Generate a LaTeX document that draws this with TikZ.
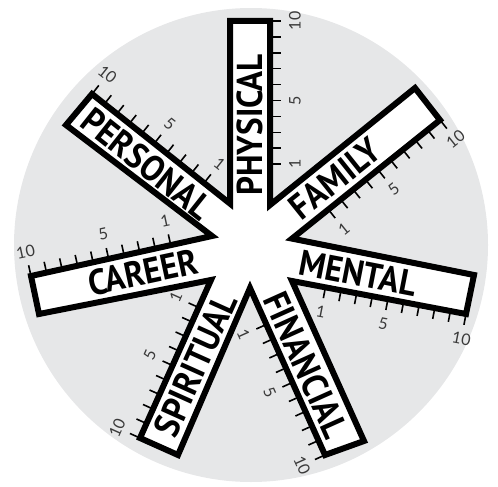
\documentclass[tikz,border=0pt]{standalone}
\usepackage{fontspec}
\usepackage{graphicx}
\usetikzlibrary{calc}
\newfontfamily\labfont{PT Sans}
\newfontfamily\numfont{Lato}
\definecolor{disc}{HTML}{E6E7E8}
\definecolor{numgray}{HTML}{3A3A3A}
\tikzset{
  armline/.style={draw=black, line width=6pt, fill=white, line join=miter},
  tickline/.style={draw=black, line width=1.6pt},
  armlabel/.style={font=\labfont\bfseries\fontsize{36}{36}\selectfont, inner sep=0pt},
  numlabel/.style={font=\numfont\fontsize{16}{16}\selectfont, text=numgray, inner sep=0pt},
}
\newcommand\ruler[3]{%
  \foreach \k in {0,...,9} {
    \coordinate (tk) at ($(#1)!{\k*15.9pt}!(#2)$);
    \draw[tickline] (tk) -- ($(tk)!11pt!90:(#2)$);
  }
  \foreach \k/\numtxt in {0/10,5/5,9/1} {
    \coordinate (tn) at ($(#1)!{\k*15.9pt}!(#2)$);
    \node[numlabel, rotate=#3] at ($(tn)!25pt!90:(#2)$) {\numtxt};
  }}
\newcommand\armtext[1]{\scalebox{0.92}[1]{#1}}
\begin{document}
\begin{tikzpicture}[x=1pt,y=-1pt]
\useasboundingbox (0,0) rectangle (498,487);
\fill[disc] (251,245) circle (237pt);
% arm corners (stroke centre line)
\coordinate (phyA) at (230,21);   \coordinate (phyB) at (270,21);
\coordinate (vPF)  at (270,205);
\coordinate (famA) at (415,88);   \coordinate (famB) at (440,120);
\coordinate (vFM)  at (292,238.6);
\coordinate (menA) at (474,275);  \coordinate (menB) at (466,314);
\coordinate (vMF)  at (292,281);
\coordinate (finA) at (364,441);  \coordinate (finB) at (325,455);
\coordinate (vFS)  at (250,288);
\coordinate (spiA) at (178,455);  \coordinate (spiB) at (140,438);
\coordinate (vSC)  at (211,280);
\coordinate (carA) at (39,314);   \coordinate (carB) at (31,276);
\coordinate (vCP)  at (212,236);
\coordinate (perA) at (66,125);   \coordinate (perB) at (92,94);
\coordinate (vPP)  at (230,203.6);
% ticks and numbers
\ruler{phyB}{vPF}{90}
\ruler{famB}{vFM}{38.7}
\ruler{menB}{vMF}{-11}
\ruler{finB}{vFS}{-65.8}
\ruler{spiB}{vSC}{65.8}
\ruler{carB}{vCP}{12}
\ruler{perB}{vPP}{-38.5}
% star
\draw[armline] (phyA) -- (phyB) -- (vPF) -- (famA) -- (famB) -- (vFM)
  -- (menA) -- (menB) -- (vMF) -- (finA) -- (finB) -- (vFS)
  -- (spiA) -- (spiB) -- (vSC) -- (carA) -- (carB) -- (vCP)
  -- (perA) -- (perB) -- (vPP) -- cycle;
% labels
\node[armlabel, rotate=90]    (lphy) at (250,125)   {\armtext{PHYSICAL}};
\node[armlabel, rotate=38.7]  (lfam) at (334.7,178.4) {\armtext{FAMILY}};
\node[armlabel, rotate=-11]   (lmen) at (358,273)   {\armtext{MENTAL}};
\node[armlabel, rotate=-65.8] (lfin) at (306,365)   {\armtext{FINANCIAL}};
\node[armlabel, rotate=65.8]  (lspi) at (195.5,365) {\armtext{SPIRITUAL}};
\node[armlabel, rotate=12]    (lcar) at (143,272.5) {\armtext{CAREER}};
\node[armlabel, rotate=-38.5] (lper) at (147,163.6) {\armtext{PERSONAL}};
\end{tikzpicture}
\end{document}
